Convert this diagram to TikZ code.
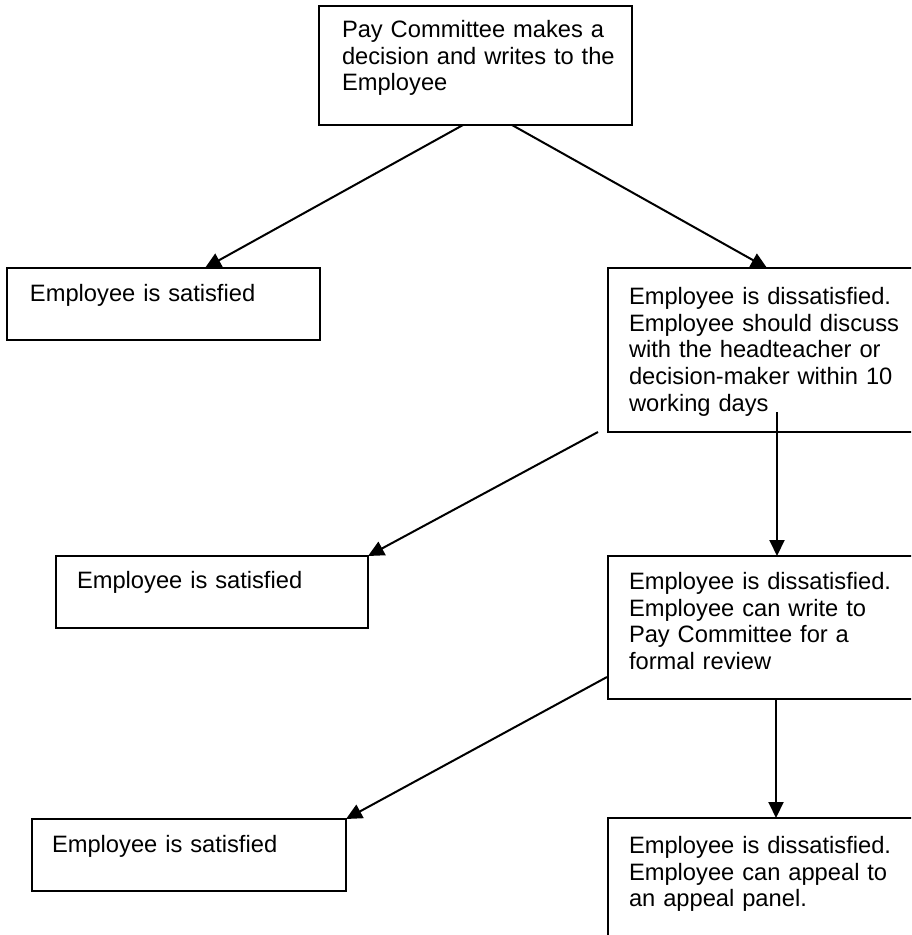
\documentclass[tikz,border=0pt]{standalone}
\usepackage{fontspec}
\setmainfont{Liberation Sans}
\usetikzlibrary{arrows.meta}
\begin{document}
\begin{tikzpicture}[x=1pt,y=-1pt,
  box/.style={draw, line width=2pt, rectangle, inner sep=0pt, outer sep=0pt, anchor=north west},
  txt/.style={anchor=north west, inner sep=0pt, outer sep=0pt, align=left, text width=300pt, font=\fontsize{23.7}{26.9}\selectfont},
  conn/.style={line width=2pt, -{Triangle[length=16pt,width=15pt]}}
]
\useasboundingbox (0,0) rectangle (911,935);
\clip (0,0) rectangle (911,935);
% boxes
\node[box, minimum width=313pt, minimum height=119pt] (top) at (319,6) {};
\node[box, minimum width=313pt, minimum height=72pt] (b1) at (7,268) {};
\node[box, minimum width=312pt, minimum height=164pt] (r1) at (608,268) {};
\node[box, minimum width=312pt, minimum height=72pt] (b2) at (56,556) {};
\node[box, minimum width=312pt, minimum height=143pt] (r2) at (608,556) {};
\node[box, minimum width=314pt, minimum height=72pt] (b3) at (32,819) {};
\node[box, minimum width=312pt, minimum height=140pt] (r3) at (608,818) {};
% texts
\node[txt] (ttop) at ([xshift=23pt,yshift=-12.3pt]top.north west) {\strut Pay Committee makes a\\decision and writes to the\\Employee};
\node[txt] (tb1) at ([xshift=23pt,yshift=-14.3pt]b1.north west) {\strut Employee is satisfied};
\node[txt] (tr1) at ([xshift=21pt,yshift=-17.3pt]r1.north west) {\strut Employee is dissatisfied.\\Employee should discuss\\with the headteacher or\\decision-maker within 10\\working days};
\node[txt] (tb2) at ([xshift=21pt,yshift=-13.3pt]b2.north west) {\strut Employee is satisfied};
\node[txt] (tr2) at ([xshift=21pt,yshift=-14.3pt]r2.north west) {\strut Employee is dissatisfied.\\Employee can write to\\Pay Committee for a\\formal review};
\node[txt] (tb3) at ([xshift=20pt,yshift=-14.3pt]b3.north west) {\strut Employee is satisfied};
\node[txt] (tr3) at ([xshift=21pt,yshift=-16.3pt]r3.north west) {\strut Employee is dissatisfied.\\Employee can appeal to\\an appeal panel.};
% connectors
\draw[conn] ([xshift=144pt]top.south west) -- ([xshift=198pt]b1.north west);
\draw[conn] ([xshift=193pt]top.south west) -- ([xshift=159pt]r1.north west);
\draw[conn] ([xshift=-10pt]r1.south west) -- (b2.north east);
\draw[conn] ([xshift=169pt,yshift=20pt]r1.south west) -- ([xshift=169pt]r2.north west);
\draw[conn] ([xshift=-1pt,yshift=22pt]r2.south west) -- (b3.north east);
\draw[conn] ([xshift=168pt]r2.south west) -- ([xshift=168pt]r3.north west);
\end{tikzpicture}
\end{document}
